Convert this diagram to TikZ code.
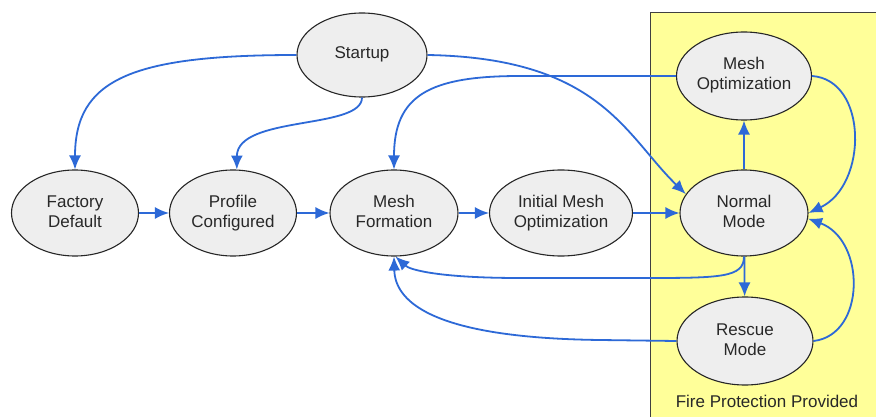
\documentclass[tikz,border=0pt]{standalone}
\usepackage{fontspec}
\setmainfont{Liberation Sans}
\usetikzlibrary{shapes.geometric,arrows.meta}
\definecolor{edgeblue}{RGB}{45,105,215}
\definecolor{nodefill}{RGB}{238,238,238}
\definecolor{zoneyellow}{RGB}{255,255,153}
\definecolor{txt}{RGB}{40,40,40}
\newcommand\twoln[2]{\strut#1\\\strut#2}
\tikzset{
  state/.style={ellipse, draw=black!85, line width=1.1pt, fill=nodefill, inner sep=0pt,
    align=center, text=txt, font=\fontsize{17}{20}\selectfont},
  link/.style={draw=edgeblue, line width=1.8pt, -{Latex[length=14pt,width=12pt]}},
}
\begin{document}
\begin{tikzpicture}[x=1pt,y=-1pt]
\useasboundingbox (0,0) rectangle (876,417);
\fill[white] (0,0) rectangle (876,417);
\draw[fill=zoneyellow, draw=black!75, line width=1pt] (650,13) rectangle (880,422);
\node[text=txt, font=\fontsize{17}{20}\selectfont] (zone) at (767,401) {Fire Protection Provided};

\node[state, minimum width=130pt, minimum height=84pt] (start) at (362,55) {\strut Startup};
\node[state, minimum width=127pt, minimum height=86pt] (fd) at (75,213) {\twoln{Factory}{Default}};
\node[state, minimum width=127pt, minimum height=86pt] (pc) at (233,213) {\twoln{Profile}{Configured}};
\node[state, minimum width=128pt, minimum height=86pt] (mf) at (394,213) {\twoln{Mesh}{Formation}};
\node[state, minimum width=143pt, minimum height=86pt] (imo) at (561,213) {\twoln{Initial Mesh}{Optimization}};
\node[state, minimum width=128pt, minimum height=86pt] (nm) at (744,213) {\twoln{Normal}{Mode}};
\node[state, minimum width=135pt, minimum height=88pt] (mo) at (744,76) {\twoln{Mesh}{Optimization}};
\node[state, minimum width=136pt, minimum height=88pt] (rm) at (745,341) {\twoln{Rescue}{Mode}};

% straight links
\draw[link] (fd) -- (pc);
\draw[link] (pc) -- (mf);
\draw[link] (mf) -- (imo);
\draw[link] (imo) -- (nm);
\draw[link] (nm) -- (mo);
\draw[link] (nm) -- (rm);

% curved links
\draw[link] (start.west) .. controls (130,55) and (75,80) .. (fd.north);
\draw[link] (start.south) .. controls (362,130) and (237,115) .. (pc.85);
\draw[link] (start.east) .. controls (600,58) and (625,135) .. (nm.162);
\draw[link] (mo.west) -- (520,76) .. controls (430,76) and (394,95) .. (mf.north);
\draw[link] (nm.south) .. controls (744,278) and (720,278) .. (640,278) -- (520,278) .. controls (440,278) and (410,270) .. (mf.-88);
\draw[link] (rm.west) -- (600,340) .. controls (440,338) and (395,305) .. (mf.-90);
\draw[link] (mo.east) .. controls (868,80) and (868,185) .. (nm.east);
\draw[link] (rm.east) .. controls (866,335) and (866,240) .. (nm.-5);
\end{tikzpicture}
\end{document}
